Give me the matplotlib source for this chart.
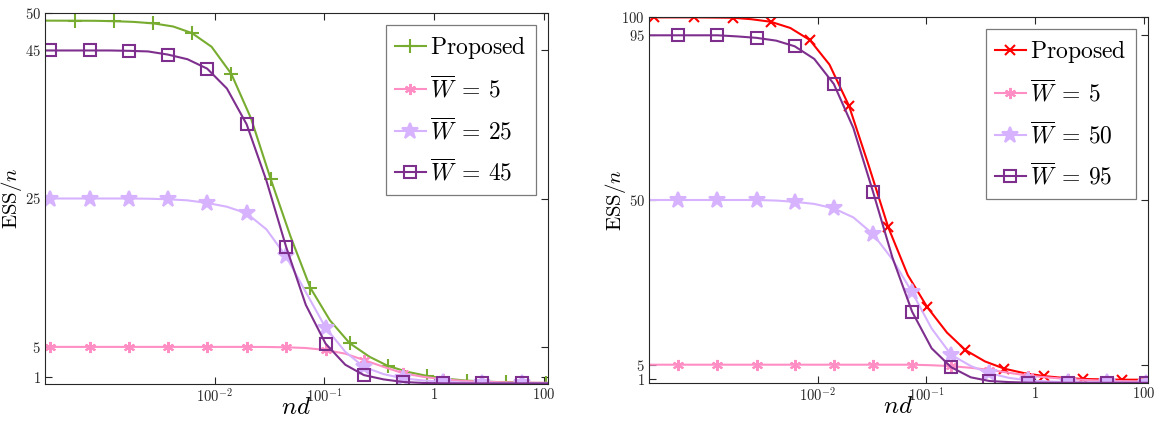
import numpy as np
import matplotlib
matplotlib.use("Agg")
import matplotlib.pyplot as plt

plt.rcParams['mathtext.fontset'] = 'cm'
plt.rcParams['font.family'] = ['DejaVu Serif']

# nd is given as its exponent in base 100 (the axis is labelled in powers of 100)
# grid_a: markers start at 100^-3.5, grid_b: markers start at 100^-3.28
grid_a = [-3.55, -3.50, -3.32, -3.14, -2.96, -2.78, -2.61, -2.43, -2.25, -2.07, -1.89,
          -1.71, -1.53, -1.35, -1.17, -0.99, -0.81, -0.64, -0.46, -0.28, -0.10,
          0.08, 0.26, 0.44, 0.62, 0.80, 1.04]
grid_b = [-3.55, -3.28, -3.10, -2.92, -2.74, -2.56, -2.38, -2.21, -2.03, -1.85, -1.67,
          -1.49, -1.31, -1.13, -0.95, -0.77, -0.59, -0.42, -0.24, -0.06, 0.12,
          0.30, 0.48, 0.66, 0.84, 1.02, 1.04]

# left panel (ESS/n)
left_proposed = [48.97, 48.96, 48.95, 48.9, 48.8, 48.6, 48.18, 47.3, 45.45, 41.8, 35.8,
                 27.6, 19.9, 13.0, 8.58, 5.5, 3.68, 2.43, 1.63, 1.08, 0.70,
                 0.45, 0.32, 0.22, 0.16, 0.12, 0.12]
left_w5 = [5.0, 5.0, 5.0, 5.0, 5.0, 5.0, 5.0, 5.0, 5.0, 5.0, 5.0,
           5.0, 4.99, 4.95, 4.85, 4.58, 4.09, 3.23, 2.31, 1.44, 0.97,
           0.63, 0.43, 0.30, 0.24, 0.20, 0.16]
left_w25 = [25.0, 25.0, 25.0, 25.0, 25.0, 25.0, 24.97, 24.9, 24.75, 24.4, 23.89,
            23.0, 20.85, 17.2, 12.38, 7.6, 4.34, 2.3, 1.33, 0.75, 0.48,
            0.30, 0.20, 0.15, 0.13, 0.12, 0.11]
left_w45 = [44.95, 44.95, 44.95, 44.95, 44.95, 44.9, 44.82, 44.4, 43.77, 42.5, 39.82,
            35.0, 27.43, 18.5, 10.66, 5.45, 2.60, 1.2, 0.62, 0.27, 0.14,
            0.09, 0.08, 0.08, 0.08, 0.08, 0.08]

# right panel
right_proposed = [99.9, 99.9, 99.9, 99.9, 99.85, 99.8, 99.4, 98.7, 97.0, 93.7, 87.0,
                  75.7, 59.5, 42.6, 29.5, 20.7, 13.8, 9.0, 5.9, 3.9, 2.7,
                  1.9, 1.4, 1.1, 1.0, 0.9, 0.9]
right_w5 = [5.0, 5.0, 5.0, 5.0, 5.0, 5.0, 5.0, 5.0, 5.0, 5.0, 5.0,
            5.0, 5.0, 5.0, 4.85, 4.6, 4.15, 3.6, 2.8, 2.0, 1.5,
            1.1, 0.8, 0.6, 0.5, 0.4, 0.38]
right_w50 = [50.0, 50.0, 50.0, 50.0, 50.0, 50.0, 49.85, 49.5, 48.93, 47.7, 45.24,
             40.7, 33.74, 24.8, 14.88, 7.7, 4.64, 2.7, 1.40, 0.7, 0.42,
             0.25, 0.19, 0.15, 0.13, 0.12, 0.12]
right_w95 = [95.0, 95.0, 95.0, 95.0, 94.7, 94.3, 93.54, 92.0, 88.55, 81.7, 69.65,
             52.3, 34.2, 19.5, 9.47, 4.3, 1.55, 0.55, 0.25, 0.1, 0.07,
             0.05, 0.05, 0.05, 0.05, 0.05, 0.05]

xtick_exp = [-2, -1, 0, 1]
xtick_labels = [r'$100^{-2}$', r'$100^{-1}$', r'$1$', r'$100$']
left_yticks = [1, 5, 25, 45, 50]
right_yticks = [1, 5, 50, 95, 100]

green = '#77AC30'
pink = '#FF8EC4'
lavender = '#D6B2FF'
purple = '#7E2F8E'
red = '#FF0000'


def nd(exps):
    return 100.0 ** np.array(exps)


def style(ax, yticks, ymax, ylab_x):
    ax.set_xscale('log')
    ax.set_xlim(100.0 ** -3.55, 100.0 ** 1.04)
    ax.set_ylim(0, ymax)
    ax.set_xticks(nd(xtick_exp))
    ax.set_xticklabels(xtick_labels)
    ax.xaxis.set_minor_locator(matplotlib.ticker.NullLocator())
    ax.set_yticks(yticks)
    ax.set_yticklabels([r'$%d$' % t for t in yticks])
    ax.tick_params(direction='in', top=True, right=True, length=5, width=0.8,
                   labelsize=10.5, colors='#262626')
    ax.tick_params(axis='x', pad=2)
    ax.tick_params(axis='y', pad=3)
    for s in ax.spines.values():
        s.set_color('#262626')
        s.set_linewidth(0.8)
    ax.set_xlabel(r'$nd$', fontsize=18, labelpad=-6)
    ax.set_ylabel(r'$\mathrm{ESS}/n$', fontsize=15, va='center')
    ax.yaxis.set_label_coords(ylab_x, 0.5)


def add_lines(ax, series):
    for grid, vals, col, mk, ms, lab in series:
        filled = mk == '*'
        ax.plot(nd(grid), vals, color=col, lw=1.5, marker=mk, ms=ms, mew=1.5,
                mfc=col if filled else 'none', mec=col, markevery=(1, 2), label=lab)
    leg = ax.legend(loc='upper right', fontsize=17, handlelength=1.3,
                    handletextpad=0.2, labelspacing=0.62, borderaxespad=0.5,
                    borderpad=0.4, fancybox=False, framealpha=1)
    leg.get_frame().set_edgecolor('#7a7a7a')
    leg.get_frame().set_linewidth(0.9)


fig = plt.figure(figsize=(11.58, 4.21), dpi=100)
ax1 = fig.add_axes([45 / 1158, 1 - 384 / 421, 503 / 1158, 371 / 421])
ax2 = fig.add_axes([649 / 1158, 1 - 383 / 421, 499 / 1158, 366 / 421])

add_lines(ax1, [
    (grid_b, left_proposed, green, '+', 10, r'$\mathrm{Proposed}$'),
    (grid_a, left_w5, pink, (6, 2, 0), 8, r'$\overline{W}\:=\:5$'),
    (grid_a, left_w25, lavender, '*', 12, r'$\overline{W}\:=\:25$'),
    (grid_a, left_w45, purple, 's', 8, r'$\overline{W}\:=\:45$'),
])
style(ax1, left_yticks, 50, -33 / 503)

add_lines(ax2, [
    (grid_a, right_proposed, red, 'x', 7, r'$\mathrm{Proposed}$'),
    (grid_b, right_w5, pink, (6, 2, 0), 8, r'$\overline{W}\:=\:5$'),
    (grid_b, right_w50, lavender, '*', 12, r'$\overline{W}\:=\:50$'),
    (grid_b, right_w95, purple, 's', 8, r'$\overline{W}\:=\:95$'),
])
style(ax2, right_yticks, 100, -33 / 499)

fig.savefig('out.png', dpi=100)
